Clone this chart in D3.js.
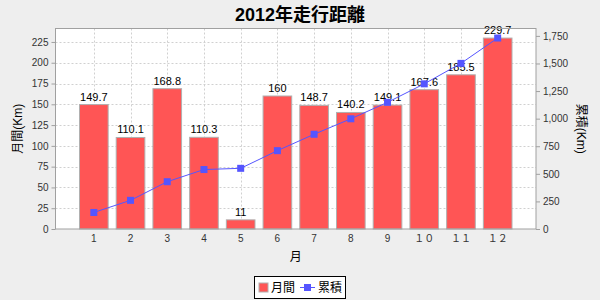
<!DOCTYPE html>
<html>
<head>
<meta charset="utf-8">
<script src="https://cdn.jsdelivr.net/npm/d3@7"></script>
<style>
  body { margin: 0; background: #eeeeee; }
  svg { display: block; font-family: "Liberation Sans", Arial, "Noto Sans CJK JP", sans-serif; }
</style>
</head>
<body>
<div id="chart"></div>
<script>
// data
var months = ["1", "2", "3", "4", "5", "6", "7", "8", "9", "１０", "１１", "１２"];
var monthly = [149.7, 110.1, 168.8, 110.3, 11, 160, 148.7, 140.2, 149.1, 167.6, 185.5, 229.7];
var cumulative = [149.7, 259.8, 428.6, 538.9, 549.9, 709.9, 858.6, 998.8, 1147.9, 1315.5, 1501.0, 1730.7];
var leftTicks = [0, 25, 50, 75, 100, 125, 150, 175, 200, 225];
var rightTicks = [0, 250, 500, 750, 1000, 1250, 1500, 1750];

var width = 600, height = 300;
var plot = {left: 55.5, right: 536, top: 28.5, bottom: 229};

var svg = d3.select("#chart").append("svg")
    .attr("width", width)
    .attr("height", height);

svg.append("rect")
    .attr("width", width).attr("height", height)
    .attr("fill", "#eeeeee");

//scales
var x = d3.scaleBand()
    .domain(months)
    .range([plot.left + 24, plot.right - 24])
    .paddingInner(0.22)
    .paddingOuter(0);

var yLeft = d3.scaleLinear()
    .domain([0, 241.2])
    .range([plot.bottom, plot.top]);

var yRight = d3.scaleLinear()
    .domain([0, 1817])
    .range([plot.bottom, plot.top]);

//plot background
svg.append("rect")
    .attr("x", plot.left).attr("y", plot.top)
    .attr("width", plot.right - plot.left)
    .attr("height", plot.bottom - plot.top)
    .attr("fill", "#ffffff");

//gridlines
var grid = svg.append("g")
    .attr("stroke", "#d0d0d0")
    .attr("stroke-dasharray", "2,2")
    .attr("stroke-width", 1);

grid.selectAll(".hgrid")
    .data(leftTicks.filter(function(d) { return d > 0; }))
    .enter().append("line")
    .attr("x1", plot.left).attr("x2", plot.right)
    .attr("y1", function(d) { return Math.round(yLeft(d)) + 0.5; })
    .attr("y2", function(d) { return Math.round(yLeft(d)) + 0.5; });

grid.selectAll(".vgrid")
    .data(months)
    .enter().append("line")
    .attr("y1", plot.top).attr("y2", plot.bottom)
    .attr("x1", function(d) { return Math.round(x(d) + x.bandwidth() / 2) + 0.5; })
    .attr("x2", function(d) { return Math.round(x(d) + x.bandwidth() / 2) + 0.5; });

//bars
svg.selectAll(".bar")
    .data(monthly)
    .enter().append("rect")
    .attr("x", function(d, i) { return x(months[i]); })
    .attr("y", function(d) { return yLeft(d); })
    .attr("width", x.bandwidth())
    .attr("height", function(d) { return plot.bottom - yLeft(d); })
    .attr("fill", "#ff5555")
    .attr("stroke", "#b0b0b0")
    .attr("stroke-width", 1);

//bar labels
svg.selectAll(".barlabel")
    .data(monthly)
    .enter().append("text")
    .attr("x", function(d, i) { return x(months[i]) + x.bandwidth() / 2; })
    .attr("y", function(d) { return yLeft(d) - 4; })
    .attr("text-anchor", "middle")
    .attr("font-size", "11px")
    .attr("fill", "#000")
    .text(function(d) { return d; });

//cumulative line
var line = d3.line()
    .x(function(d, i) { return x(months[i]) + x.bandwidth() / 2; })
    .y(function(d) { return yRight(d); });

svg.append("path")
    .datum(cumulative)
    .attr("d", line)
    .attr("fill", "none")
    .attr("stroke", "#5555ff")
    .attr("stroke-width", 1);

svg.selectAll(".marker")
    .data(cumulative)
    .enter().append("rect")
    .attr("x", function(d, i) { return x(months[i]) + x.bandwidth() / 2 - 3.5; })
    .attr("y", function(d) { return yRight(d) - 3.5; })
    .attr("width", 7).attr("height", 7)
    .attr("fill", "#5555ff");

//plot border
svg.append("rect")
    .attr("x", plot.left).attr("y", plot.top)
    .attr("width", plot.right - plot.left)
    .attr("height", plot.bottom - plot.top)
    .attr("fill", "none")
    .attr("stroke", "#a0a0a0");

//axes
var axisLeft = svg.append("g")
    .attr("transform", "translate(" + plot.left + ",0)")
    .call(d3.axisLeft(yLeft).tickValues(leftTicks).tickSize(4).tickPadding(3).tickSizeOuter(0));

var axisRight = svg.append("g")
    .attr("transform", "translate(" + plot.right + ",0)")
    .call(d3.axisRight(yRight).tickValues(rightTicks).tickSize(4).tickPadding(3).tickSizeOuter(0)
      .tickFormat(d3.format(",")));

var axisBottom = svg.append("g")
    .attr("transform", "translate(0," + plot.bottom + ")")
    .call(d3.axisBottom(x).tickSize(0).tickPadding(6));

[axisLeft, axisRight, axisBottom].forEach(function(a) {
  a.select(".domain").remove();
  a.selectAll("line").attr("stroke", "#a0a0a0");
  a.selectAll("text")
      .attr("font-family", "'Liberation Sans', Arial, 'Noto Sans CJK JP', sans-serif")
      .attr("font-size", "10px")
      .attr("fill", "#333");
});

//axis titles
svg.append("text")
    .attr("transform", "translate(22," + (plot.top + plot.bottom) / 2 + ") rotate(-90)")
    .attr("text-anchor", "middle")
    .attr("font-size", "12px")
    .attr("fill", "#000")
    .text("月間(Km)");

svg.append("text")
    .attr("transform", "translate(577," + (plot.top + plot.bottom) / 2 + ") rotate(90)")
    .attr("text-anchor", "middle")
    .attr("font-size", "12px")
    .attr("fill", "#000")
    .text("累積(Km)");

svg.append("text")
    .attr("x", (plot.left + plot.right) / 2)
    .attr("y", 261)
    .attr("text-anchor", "middle")
    .attr("font-size", "12px")
    .attr("fill", "#000")
    .text("月");

//title
svg.append("text")
    .attr("x", width / 2)
    .attr("y", 21)
    .attr("text-anchor", "middle")
    .attr("font-size", "18px")
    .attr("font-weight", "bold")
    .attr("fill", "#000")
    .text("2012年走行距離");

//legend
var legend = svg.append("g");
legend.append("rect")
    .attr("x", 254.5).attr("y", 276.5)
    .attr("width", 91).attr("height", 22)
    .attr("fill", "#ffffff")
    .attr("stroke", "#000");
legend.append("rect")
    .attr("x", 259).attr("y", 283)
    .attr("width", 9).attr("height", 9)
    .attr("fill", "#ff5555")
    .attr("stroke", "#b0b0b0");
legend.append("text")
    .attr("x", 271).attr("y", 292)
    .attr("font-size", "12px")
    .text("月間");
legend.append("line")
    .attr("x1", 300).attr("x2", 315)
    .attr("y1", 287.5).attr("y2", 287.5)
    .attr("stroke", "#5555ff");
legend.append("rect")
    .attr("x", 304).attr("y", 284)
    .attr("width", 7).attr("height", 7)
    .attr("fill", "#5555ff");
legend.append("text")
    .attr("x", 318).attr("y", 292)
    .attr("font-size", "12px")
    .text("累積");
</script>
</body>
</html>
